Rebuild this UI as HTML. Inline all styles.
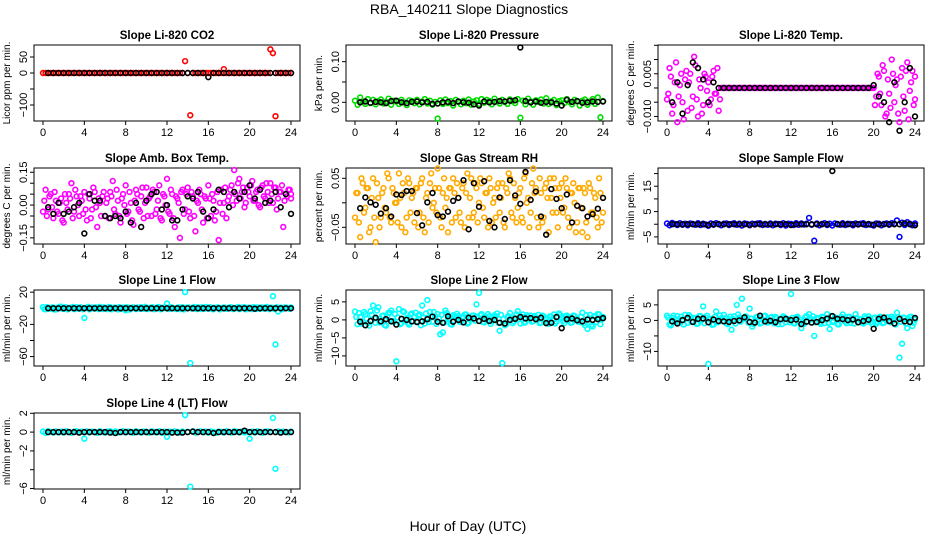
<!DOCTYPE html>
<html><head><meta charset="utf-8"><style>
html,body{margin:0;padding:0;background:#fff;}
svg{display:block;font-family:"Liberation Sans",sans-serif;}
</style></head><body>
<svg id="chart" width="936" height="540" viewBox="0 0 936 540" xmlns="http://www.w3.org/2000/svg">
<text x="469" y="14" font-size="14" text-anchor="middle">RBA_140211  Slope Diagnostics</text>
<text x="468" y="531" font-size="14" text-anchor="middle">Hour of Day (UTC)</text>
</svg>
<script>
const xTicks = [0,4,8,12,16,20,24];
const co2Color = [0,0,0,0,0,0,0,0, 0,0,0,0,0,0,0,0, 0,0,0,0,0,0,0,0, 0,0,0,0,0,0,0,0, 0,0,0,0,0,0,0,0, 0,0,0,0,0,0,0,0, 0,0,0,0,0,0,0,37, 0,-132,0,0,0,0,0,0, 0,0,0,0,0,0,12,0, 0,0,0,0,0,0,0,0, 0,0,0,0,0,0,0,0, 74,62,-135,0,0,0,0,0, 0];
const co2Black = [0,0,0,0,0,0,0,0, 0,0,0,0,0,0,0,0, 0,0,0,0,0,0,0,0, 0,0,0,0,0,0,0,-13, 0,0,0,0,0,0,0,0, 0,0,0,0,0,0,0,0];
const presColor = [0.004,-0.006,0.012,0.002,-0.004,0.008,-0.002,0.006, -0.005,0.003,0.007,-0.003,0.001,0.009,-0.006,0.004, 0.002,-0.004,0.006,0.000,-0.007,0.005,0.003,-0.002, 0.006,-0.005,0.002,0.008,-0.003,0.004,-0.006,0.001, -0.040,0.005,-0.004,0.007,-0.002,0.003,-0.008,0.006, 0.001,-0.005,0.004,-0.002,0.007,-0.006,0.002,0.005, -0.004,0.008,-0.001,0.006,0.003,-0.005,0.009,0.002, -0.003,0.006,0.001,-0.004,0.007,0.003,-0.002,0.008, -0.038,0.004,-0.005,0.009,0.002,-0.006,0.005,0.001, 0.007,-0.003,0.010,-0.004,0.002,0.006,-0.007,0.003, 0.005,-0.002,0.008,0.001,-0.005,0.006,0.003,-0.008, 0.004,0.007,-0.006,0.002,0.008,-0.004,0.012,-0.037, 0.003];
const presBlack = [0,0.002,-0.001,0.001,0,-0.002,0.003,0.004, 0,-0.002,0.001,0.002,0,0.001,-0.004,-0.003, 0,0.001,-0.002,0.002,0,-0.001,-0.005,-0.008, 0.002,0,0.001,0.003,0.002,0.004,0.005,0.135, 0.003,0,0.002,-0.001,0.001,0.000,-0.003,-0.008, 0.006,0.001,0.003,-0.001,0,0.002,0.001,0.002];
const tempColor = [-0.004,0.007,-0.009,0.002,-0.012,0.001,-0.005,0.003, -0.008,0.005,-0.003,0.008,-0.010,0.000,-0.006,0.004, 0.002,-0.004,0.006,-0.002,-0.008,0,0,0, 0,0,0,0,0,0,0,0, 0,0,0,0,0,0,0,0, 0,0,0,0,0,0,0,0, 0,0,0,0,0,0,0,0, 0,0,0,0,0,0,0,0, 0,0,0,0,0,0,0,0, 0,0,0,0,0,0,0,0, 0.000,-0.003,0.004,-0.006,0.006,-0.009,-0.002,0.010, -0.005,0.003,-0.012,0.007,-0.008,0.009,-0.001,0.006, -0.004];
const tempColor2 = [-0.002,0.004,-0.006,0.009,-0.003,0.005,-0.011,0.006, 0.002,-0.007,0.011,-0.004,0.003,-0.009,0.005,-0.001, -0.006,0.004,-0.002,0.007,-0.004,0,0,0, 0,0,0,0,0,0,0,0, 0,0,0,0,0,0,0,0, 0,0,0,0,0,0,0,0, 0,0,0,0,0,0,0,0, 0,0,0,0,0,0,0,0, 0,0,0,0,0,0,0,0, 0,0,0,0,0,0,0,0, -0.006,0.005,-0.002,0.008,-0.010,0.003,-0.007,0.005, 0.001,-0.009,0.004,-0.003,0.006,-0.011,0.002,-0.006, 0.004];
const tempBlack = [-0.005,0.002,-0.009,0.001,0.009,0.007,0.003,-0.005, 0.002,0,0,0,0,0,0,0, 0,0,0,0,0,0,0,0, 0,0,0,0,0,0,0,0, 0,0,0,0,0,0,0,0.001, -0.003,-0.005,-0.012,0.002,-0.015,-0.005,0.007,-0.010];
const ambColor = [-0.03,0.07,-0.02,0.05,-0.06,0.02,-0.04,0.03, -0.08,0.01,0.05,0.10,-0.03,0.04,-0.05,0.02, 0.06,-0.07,0.03,-0.02,0.06,-0.10,0.01,0.04, -0.05,0.03,0.06,0.11,-0.04,0.02,-0.08,0.05, 0.09,-0.03,0.01,-0.09,0.07,-0.02,0.04,-0.06, 0.08,0.03,-0.05,0.06,-0.02,0.09,-0.07,0.04, 0.12,-0.04,0.05,-0.10,0.03,-0.15,0.07,-0.02, 0.08,-0.06,0.04,-0.12,0.01,0.05,-0.08,0.03, 0.09,-0.05,0.02,-0.03,-0.16,0.07,0.01,-0.06, 0.04,0.09,0.16,0.02,0.12,0.06,-0.01,0.08, 0.04,0.11,0.02,0.07,-0.01,0.09,0.03,0.06, 0.10,0.01,0.08,0.03,0.06,-0.10,0.05,0.07, 0.03];
const ambColor2 = [0.02,-0.05,0.04,-0.01,0.06,-0.03,0.01,-0.07, 0.05,-0.02,0.03,-0.06,0.07,0.00,0.04,-0.04, -0.02,0.05,-0.06,0.08,-0.01,0.03,-0.05,0.06, 0.01,-0.06,0.04,-0.02,0.07,-0.05,0.03,0.00, -0.04,0.06,-0.07,0.02,0.05,-0.03,0.08,0.01, -0.05,0.04,0.07,-0.04,0.02,-0.06,0.05,0.00, -0.03,0.07,-0.06,0.04,0.01,0.06,-0.04,0.05, -0.03,0.06,-0.05,0.02,0.07,-0.02,0.04,-0.06, 0.03,0.05,-0.07,0.06,0.01,-0.04,0.08,0.02, 0.07,0.00,0.05,0.10,0.03,0.08,0.01,0.06, 0.09,0.02,0.06,0.00,0.08,0.04,0.10,0.01, 0.05,0.08,-0.02,0.06,0.09,0.02,0.04,0.07, 0.05];
const ambBlack = [-0.01,-0.04,0.01,-0.04,-0.03,-0.01,0.01,-0.13, 0.05,0.02,0.02,-0.05, -0.06,-0.05,-0.06,-0.03, -0.08,0.01,-0.10,0.02, 0.05,0.06,-0.02,0.00, -0.07,-0.07,-0.02,0.04, 0.03,0.06,-0.03,-0.06, -0.02,0.07,0.06,-0.01, 0.06,0.03,0.06,0.09, 0.03,0.07,0.01,0.02, 0.06,-0.01,0.05,-0.04];
const rhColor = [-0.03,0.02,-0.07,0.04,-0.01,0.03,-0.05,0.05, -0.08,0.01,-0.03,0.03,-0.02,0.05,-0.04,0.02, 0.00,0.06,-0.05,0.02,-0.03,0.04,0.01,-0.04, 0.03,-0.02,0.05,-0.06,0.02,0.04,-0.01,0.03, 0.07,-0.03,0.02,-0.01,-0.06,0.03,0.05,-0.03, 0.01,-0.04,0.04,0.02,-0.03,0.05,-0.02,0.03, 0.00,0.04,-0.03,0.02,0.05,-0.04,0.01,0.03, -0.02,0.04,-0.05,0.02,0.05,-0.03,0.01,-0.01, 0.03,-0.04,0.06,0.01,-0.02,0.07,0.03,-0.05, 0.02,-0.03,0.04,-0.06,0.01,0.05,-0.02,0.03, 0.04,-0.01,0.03,-0.05,0.02,0.00,-0.04,0.03, -0.06,0.02,-0.07,0.03,-0.02,0.01,-0.05,0.02, 0.01];
const rhColor2 = [0.02,-0.04,0.05,-0.02,0.03,-0.06,0.01,-0.03, 0.04,-0.05,0.02,-0.01,0.06,-0.03,0.03,0.00, -0.04,0.01,0.04,-0.06,0.05,-0.02,0.02,0.03, -0.05,0.04,-0.03,0.01,-0.04,0.06,0.00,-0.02, 0.03,-0.05,0.05,0.01,0.03,-0.04,0.02,0.04, -0.02,0.03,-0.05,0.06,0.01,-0.03,0.04,-0.04, 0.05,-0.01,0.02,-0.05,0.03,0.00,-0.03,0.04, 0.01,-0.04,0.03,0.06,-0.02,0.04,-0.04,0.02, -0.03,0.05,0.00,-0.05,0.04,0.02,-0.03,0.05, -0.04,0.03,0.01,0.05,-0.02,0.03,-0.05,0.01, -0.02,0.05,-0.03,0.02,0.04,-0.06,0.03,-0.01, 0.03,-0.04,0.04,-0.02,0.02,-0.03,0.05,-0.04, -0.02];
const rhBlack = [-0.011,0.011,0.001,-0.004,-0.022,-0.011,-0.028,0.017, 0.016,0.024,0.024,-0.021,-0.046,0.001,0.020,-0.025, -0.028,-0.018,0.004,0.010,0.046,-0.054,0.040,-0.008, 0.044,-0.037,-0.050,0.011,-0.033,0.046,0.015,-0.002, 0.063,0.006,0.023,-0.028,-0.065,0.028,0.008,-0.011, 0.017,-0.040,-0.006,-0.011,-0.028,-0.023,-0.012,0.010];
const sampColor = [0.3,-0.4,0.5,0.1,-0.3,0.4,-0.2,0.2, -0.4,0.3,0.1,-0.2,0.4,-0.3,0.2,-0.1, -0.6,0.3,-0.2,0.4,0.1,-0.4,0.2,0.3, -0.3,0.1,0.4,-0.2,0.2,-0.5,0.3,0.1, -0.4,0.2,-0.1,0.3,0.4,-0.3,0.1,-0.2, 0.3,-0.4,0.2,0.1,-0.3,0.4,-0.5,0.2, 0.1,-0.3,0.4,-0.2,0.3,-0.1,0.2,2.5, -0.2,-6.5,0.3,-0.4,0.1,0.4,-0.3,0.2, -0.5,0.3,0.1,-0.2,0.4,-0.3,0.2,0.1, -0.4,0.3,-0.1,0.2,0.4,-0.3,0.1,-0.2, -0.5,0.3,0.2,-0.4,0.1,0.3,-0.2,0.4, 0.2,1.5,-5.0,0.6,-0.3,0.8,0.2,-0.4, 0.3];
const sampBlack = [0,0,0,0,0,0,0,-0.3, 0,0,0,0,0,0,0,-0.2, 0,0,0,0,0,0,0,-0.3, 0,0,0,0,0,0,0,21, 0,0,0,0,0,0,0,-0.2, 0,0,0,0,0,0.3,0,-0.4];
const l1Color = [1.5,-1.2,0.8,-0.5,1.0,-1.5,0.3,2.0, -0.8,1.2,-0.3,0.6,-1.0,1.4,-0.6,0.9, -12,0.5,-1.3,1.1,-0.4,0.7,1.8,-0.9, 0.4,-1.1,1.3,-0.2,0.9,-1.4,0.6,1.0, -2.5,0.8,-0.5,1.2,-1.0,0.3,1.5,-0.7, 0.9,-0.4,1.1,-1.2,0.5,1.3,-0.6,0.2, 6,-0.9,1.0,-0.3,0.7,-1.1,1.4,20, 0.4,-68,0.8,-0.6,1.2,-0.9,0.3,1.6, -0.5,1.0,-1.2,0.6,0.9,-0.4,1.1,-0.8, 0.5,1.2,-0.6,0.3,-1.0,0.8,1.3,-0.5, 0.7,-1.1,0.4,1.0,-0.7,0.9,-0.3,1.2, 0.6,15,-45,-4,0.8,-0.6,1.1,0.3, 0.5];
const l1Color2 = [-1.0,1.5,-0.4,1.1,-1.6,0.7,1.9,-0.6, 1.2,-1.4,0.5,1.6,-0.9,0.3,1.3,-1.2, 0.6,1.8,-0.7,0.9,1.4,-1.1,0.4,1.2, -0.5,1.7,-1.3,0.8,0.2,1.5,-0.9,0.6, 1.4,-1.6,0.9,0.3,1.1,-0.7,0.5,1.8, -1.0,0.6,1.3,-0.4,1.6,-1.2,0.8,1.0, -0.6,1.4,0.3,-1.0,1.2,0.7,-1.5,0.9, 1.1,-0.3,1.6,-1.1,0.5,1.3,-0.8,0.4, 1.5,-0.9,0.7,1.2,-1.4,0.6,0.9,-0.5, 1.3,-1.0,0.4,1.7,-0.6,1.1,-1.3,0.8, 0.5,1.4,-0.9,0.7,1.2,-0.4,1.6,-1.1, 0.9,-0.7,1.3,0.3,-1.2,1.0,0.6,-0.8, 1.1];
const l1Black = [0,0,0,0,0,0,0,0, 0,0,0,0,0,0,0,0, 0,0,0,0,0,0,0,0, 0,0,0,0,0,0,0,0, 0,0,0,0,0,0,0,0, -0.5,0,0,0,0,0,0,0];
const l2Color = [2.3,-1.2,0.8,-0.5,1.6,-0.9,2.4,4.0, -0.8,3.5,-0.3,1.2,-1.6,2.0,2.6,-0.6, -11.5,3.0,-0.9,2.2,0.5,-1.3,1.8,0.9, -0.4,1.5,4.0,-1.0,5.5,2.2,-0.5,1.0, 1.6,-4.0,-3.5,2.6,0.4,-1.2,1.3,0.7, 1.1,-0.6,0.9,1.5,-0.8,0.3,1.2,4.3, 7.5,1.6,-0.7,0.5,1.0,-0.4,1.3,1.8, -3.0,-12,-1.5,0.8,1.9,-0.9,0.5,2.4, -1.0,1.5,-0.6,0.9,1.2,-0.3,0.7,1.4, -0.8,1.0,0.4,-1.1,0.9,1.5,-0.5,1.8, 0.6,-0.9,1.2,0.3,-0.7,1.1,0.4,-0.6, 2.0,-1.5,-2.5,1.4,-1.8,0.9,1.6,-1.2, 0.8];
const l2Color2 = [0.8,1.9,-1.0,2.2,0.3,-1.6,1.4,0.5, 2.6,-0.7,1.1,-1.4,0.9,2.0,-0.3,1.6, 0.7,-1.2,2.4,0.2,-0.9,1.5,-0.4,2.0, 1.2,-1.5,0.6,1.8,-0.6,1.0,2.2,-1.1, 0.4,1.4,-0.8,1.9,0.1,-1.3,1.0,1.7, -0.5,0.8,1.5,-1.0,0.6,1.2,-0.2,0.9, 1.3,-0.6,0.8,1.6,-1.1,0.5,1.0,-0.8, 1.4,0.2,-1.2,1.0,0.6,-0.4,1.5,0.3, 0.9,-0.8,1.3,0.4,-0.5,1.1,0.2,-0.9, 1.2,0.5,-0.6,1.0,0.3,-1.0,0.8,1.4, -0.3,1.0,0.6,-0.8,1.2,0.2,-0.5,0.9, -0.9,1.3,0.4,-1.4,1.0,-0.6,1.5,0.2, 0.4];
const l2Black = [-0.5,-1.5,-0.3,0.6,-0.4,0.2,-0.4,-1.3, 0.3,0,-0.4,-0.6,-0.4,0.2,0.9,-0.5, -0.8,1.0,-0.5,0,-0.7,0.6,0.4,-0.3, 0.3,-0.3,0,-0.8,-1.0,0,0.3,0.8, 0.4,0.5,0.2,0.6,-0.9,-0.8,0.8,-2.3, 0.2,0.4,-0.1,-0.4,0.1,0,0.2,0.5];
const l3Color = [1.5,-1.3,0.8,-0.5,1.4,-0.9,0.3,1.8, -0.8,1.2,-0.3,0.6,-1.0,1.4,4.5,0.9, -14,0.5,-1.3,2.9,-0.4,0.7,1.8,-0.9, 0.4,-3.0,1.3,5.0,0.9,7.0,0.6,1.0, 3.8,-2.0,-0.5,1.2,-1.0,0.3,1.5,-0.7, 0.9,-0.4,1.1,-1.2,0.5,1.3,-0.6,0.2, 8.5,-0.9,1.0,-0.3,-2.5,-1.1,1.4,2.0, 0.4,-5.0,0.8,-0.6,1.2,-0.9,2.0,-2.8, -0.5,1.0,-1.2,0.6,1.9,-0.4,1.1,-0.8, 0.5,2.0,-0.6,0.3,-1.0,0.8,1.3,-0.5, 0.7,-1.1,0.4,1.0,-0.7,0.9,-0.3,1.2, 0.6,2.5,-12,-7.5,0.8,-2.5,1.1,-1.8, 0.5];
const l3Color2 = [0.9,-1.6,1.5,0.4,-0.8,1.2,-1.3,0.6, 1.7,-0.5,0.8,-1.1,1.4,0.2,-0.9,1.5, 0.3,-1.4,1.1,-0.6,1.6,-0.2,0.7,-1.2, 1.2,0.5,-1.0,1.9,-0.4,0.8,1.3,-0.7, 0.6,-1.2,1.0,0.3,-0.8,1.4,0.1,-0.5, 1.1,-0.9,0.7,0.4,-1.2,0.9,0.5,-0.6, 0.8,-1.0,1.2,0.2,-0.7,1.0,-0.4,0.6, 1.3,-0.6,0.5,-1.1,0.9,0.3,-0.8,1.4, -0.2,0.7,-1.3,1.1,0.4,-0.9,1.2,0.1, -1.0,0.8,0.3,-0.7,1.3,-0.4,0.6,-1.2, 0.9,-0.5,1.2,-0.9,0.3,1.0,-0.6,0.7, -1.3,1.1,-0.4,0.9,-1.0,0.5,1.2,-0.8, 0.2];
const l3Black = [-0.3,-1,0.1,0.8,-0.5,0.5,0.6,-0.6, 0.3,-0.2,-0.3,-0.5,-0.2,0,1.0,-0.5, -0.7,1.5,-0.3,-0.1,-0.6,0.4,0.5,0.1, 0.3,-1.2,-0.4,-0.7,-0.5,0.1,0.6,1.4, 0.5,0.4,0.1,0.3,-0.6,-0.2,0.2,-2.7, 0.5,0.9,-0.2,-1.0,0.5,-0.3,-0.5,0.8];
const l4Color = [0.05,-0.08,0.10,0.02,-0.06,0.08,-0.03,0.06, -0.05,0.09,0.01,-0.07,0.04,0.10,-0.02,0.05, -0.7,0.08,-0.04,0.06,0.02,-0.08,0.09,0.01, -0.06,0.05,0.08,-0.03,0.07,-0.05,0.02,0.10, -0.04,0.06,0.03,-0.07,0.09,0.02,-0.05,0.07, 0.04,-0.06,0.08,0.01,-0.03,0.09,-0.07,0.05, -0.5,0.06,-0.04,0.08,0.02,-0.05,0.07,1.8, 0.03,-5.8,0.09,-0.06,0.04,0.08,-0.02,0.06, -0.05,0.07,0.01,-0.08,0.06,0.03,-0.04,0.09, 0.02,-0.06,0.08,0.05,-0.03,0.07,-0.05,0.04, -0.7,0.06,-0.04,0.09,0.01,-0.07,0.05,0.08, 0.03,1.5,-3.9,0.07,-0.05,0.06,0.02,-0.04, 0.05];
const l4Black = [0,0,0,0,0,0,-0.05,0, 0,0,0,0,-0.05,-0.1,0,0, 0,0,0,0,0,0,0,0, -0.05,-0.05,-0.05,0,0.05,0,0,0, -0.1,0,0,0,0,0,0.15,0, 0,0,0,0,0,-0.05,0,0];

const panels = [
 {name:'co2', title:'Slope Li-820 CO2', ylab:'Licor ppm per min.', col:0,row:0, ymin:-150,ymax:87.5, ticks:[-100,-50,0,50], labels:['-100','','0','50'], color:'#ff0000', c:co2Color, c2:null, b:co2Black},
 {name:'pressure', title:'Slope Li-820 Pressure', ylab:'kPa per min.', col:1,row:0, ymin:-0.046,ymax:0.141, ticks:[0,0.05,0.1], labels:['0.00','','0.10'], color:'#00dd00', c:presColor, c2:null, b:presBlack},
 {name:'li820-temp', title:'Slope Li-820 Temp.', ylab:'degrees C per min.', col:2,row:0, ymin:-0.0116,ymax:0.0151, ticks:[-0.01,-0.005,0,0.005,0.01,0.015], labels:['-0.010','','','0.005','',''], color:'#ff00ff', c:tempColor, c2:tempColor2, b:tempBlack},
 {name:'amb-box-temp', title:'Slope Amb. Box Temp.', ylab:'degrees C per min.', col:0,row:1, ymin:-0.178,ymax:0.1695, ticks:[-0.15,-0.1,-0.05,0,0.05,0.1,0.15], labels:['-0.15','','','0.00','','','0.15'], color:'#ff00ff', c:ambColor, c2:ambColor2, b:ambBlack},
 {name:'gas-stream-rh', title:'Slope Gas Stream RH', ylab:'percent per min.', col:1,row:1, ymin:-0.084,ymax:0.071, ticks:[-0.05,0,0.05], labels:['-0.05','','0.05'], color:'#ffaa00', c:rhColor, c2:rhColor2, b:rhBlack},
 {name:'sample-flow', title:'Slope Sample Flow', ylab:'ml/min per min.', col:2,row:1, ymin:-7.8,ymax:22.2, ticks:[-5,0,5,10,15,20], labels:['-5','','5','','15',''], color:'#0000ff', c:sampColor, c2:null, b:sampBlack},
 {name:'line1-flow', title:'Slope Line 1 Flow', ylab:'ml/min per min.', col:0,row:2, ymin:-71.7,ymax:22.7, ticks:[-60,-40,-20,0,20], labels:['-60','','-20','','20'], color:'#00ffff', c:l1Color, c2:l1Color2, b:l1Black},
 {name:'line2-flow', title:'Slope Line 2 Flow', ylab:'ml/min per min.', col:1,row:2, ymin:-12.8,ymax:8.3, ticks:[-10,-5,0,5], labels:['-10','-5','0','5'], color:'#00ffff', c:l2Color, c2:l2Color2, b:l2Black},
 {name:'line3-flow', title:'Slope Line 3 Flow', ylab:'ml/min per min.', col:2,row:2, ymin:-14.7,ymax:9.8, ticks:[-10,-5,0,5], labels:['-10','','0','5'], color:'#00ffff', c:l3Color, c2:l3Color2, b:l3Black},
 {name:'line4-flow', title:'Slope Line 4 (LT) Flow', ylab:'ml/min per min.', col:0,row:3, ymin:-6.05,ymax:2.03, ticks:[-6,-4,-2,0,2], labels:['-6','','-2','0','2'], color:'#00ffff', c:l4Color, c2:null, b:l4Black}
];
const colLeft=[34,346,658], rowTop=[45,168,290,413], W=266, H=76;
const NS='http://www.w3.org/2000/svg';
const svg=document.getElementById('chart');
function mk(tag,attrs,parent){const e=document.createElementNS(NS,tag);for(const k in attrs)e.setAttribute(k,attrs[k]);(parent||svg).appendChild(e);return e;}

panels.forEach(p=>{
  const L=colLeft[p.col], T=rowTop[p.row];
  const g=mk('g',{});
  
  
  const xs=h=>L+9+h*(248/24);
  const ys=v=>T+H-(v-p.ymin)/(p.ymax-p.ymin)*H;
  const t=mk('text',{x:L+W/2,y:T-6,'font-size':11.5,'font-weight':'bold','text-anchor':'middle'},g);
  t.textContent=p.title;
  
  
  const box=mk('rect',{x:L,y:T,width:W,height:H,fill:'none',stroke:'#000','stroke-width':1},g);
  
  
  xTicks.forEach(h=>{
    mk('line',{x1:xs(h),x2:xs(h),y1:T+H,y2:T+H+4,stroke:'#000'},g);
    const tl=mk('text',{x:xs(h),y:T+H+15,'font-size':11,'text-anchor':'middle'},g);
    tl.textContent=h;
    
    
  });
  p.ticks.forEach((v,i)=>{
    const y=ys(v);
    mk('line',{x1:L-4,x2:L,y1:y,y2:y,stroke:'#000'},g);
    if(p.labels[i]){
      const tl=mk('text',{x:0,y:0,'font-size':11,'text-anchor':'middle',transform:`translate(${L-7},${y}) rotate(-90)`},g);
      tl.textContent=p.labels[i].replace('-','\u2212');
      
      
    }
  });
  const yl=mk('text',{x:0,y:0,'font-size':10,'text-anchor':'middle',transform:`translate(${L-24},${T+H/2}) rotate(-90)`},g);
  yl.textContent=p.ylab;
  
  
  p.c.forEach((v,i)=>{
    const c=mk('circle',{cx:xs(i*0.25),cy:ys(v),r:2.4,fill:'none',stroke:p.color,'stroke-width':1.6},g);
    
    
  });
  if(p.c2){
    p.c2.forEach((v,i)=>{
      const h=Math.min(24,i*0.25+0.125);
      const c=mk('circle',{cx:xs(h),cy:ys(v),r:2.4,fill:'none',stroke:p.color,'stroke-width':1.6},g);
      
      
    });
  }
  p.b.forEach((v,i)=>{
    const c=mk('circle',{cx:xs(0.5*(i+1)),cy:ys(v),r:2.4,fill:'none',stroke:'#000','stroke-width':1.6},g);
    
    
  });
});
</script>
</body></html>
